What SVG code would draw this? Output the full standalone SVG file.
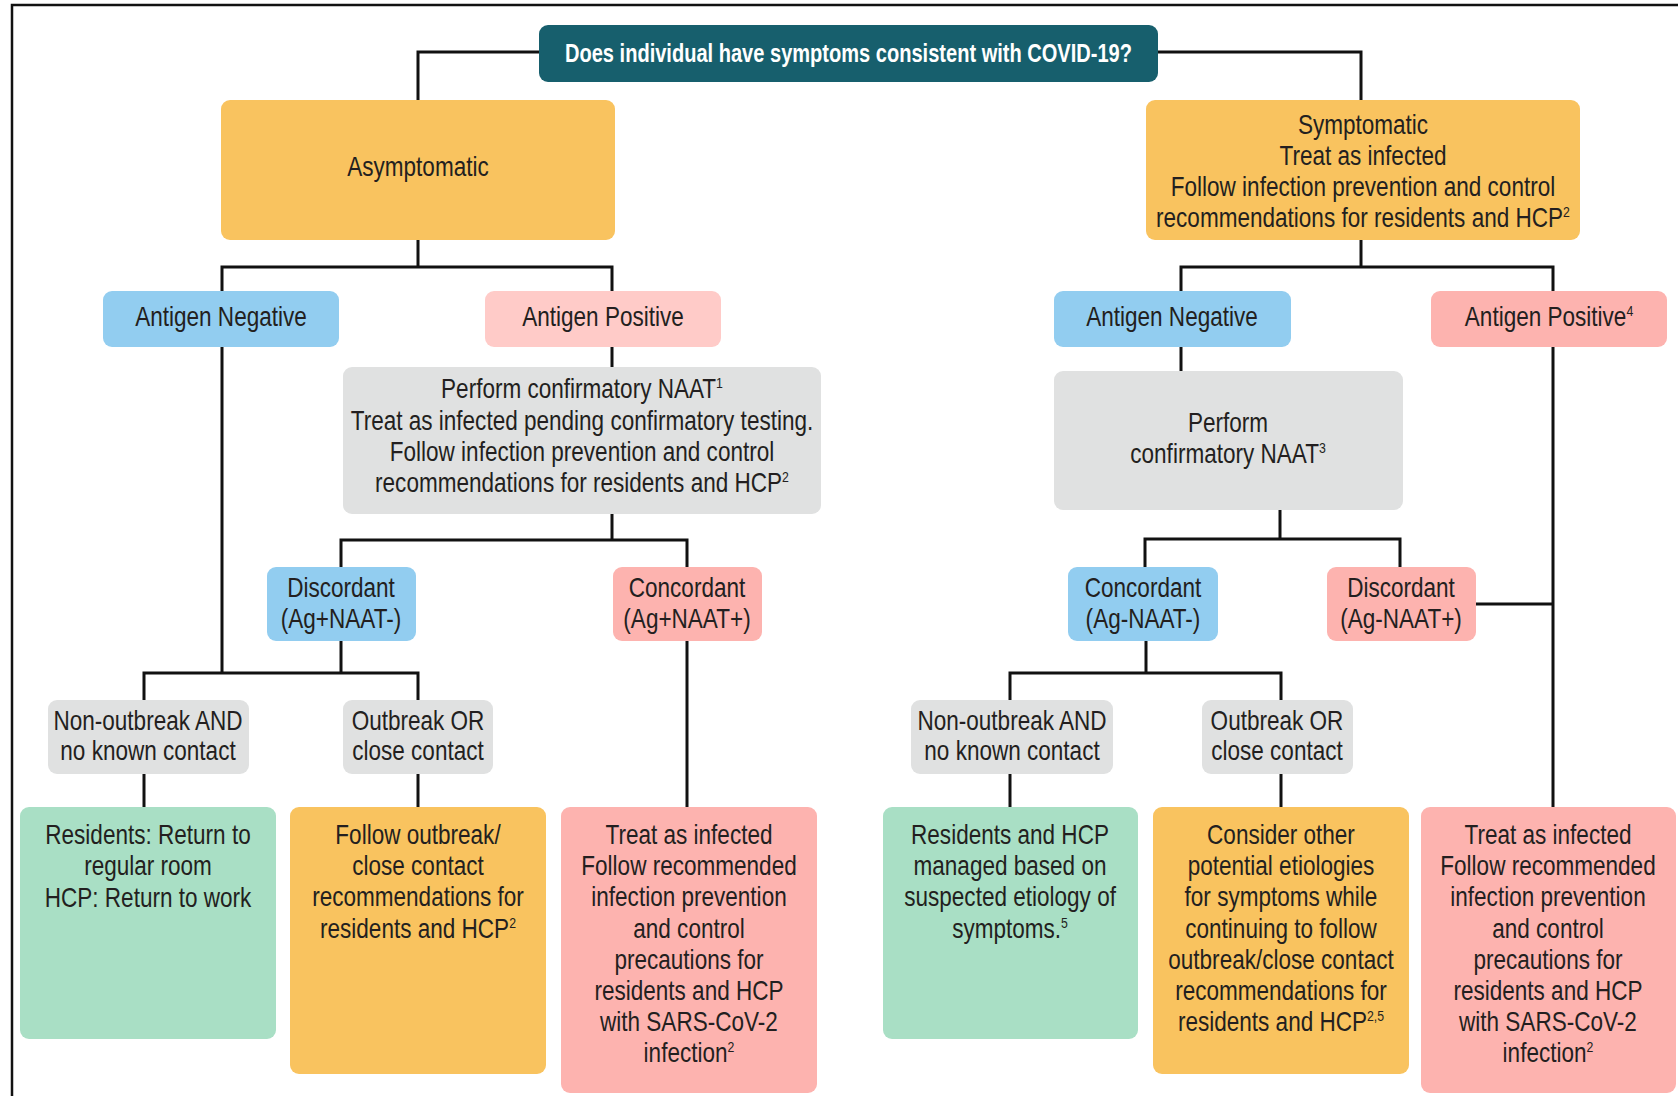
<svg xmlns="http://www.w3.org/2000/svg" width="1678" height="1096" viewBox="0 0 1678 1096">
<style>
.t{font-family:"Liberation Sans Narrow","Liberation Sans",sans-serif;font-size:27.5px;fill:#231f20;text-anchor:middle;transform-box:fill-box;transform-origin:center;transform:scaleX(0.82)}
.ti{font-family:"Liberation Sans",sans-serif;font-size:25px;font-weight:bold;fill:#ffffff;text-anchor:middle}
.s{font-size:15px}
.org{fill:#f9c35f}.blu{fill:#92cdf0}.pkl{fill:#ffcbc8}.pk{fill:#fdb3af}.gry{fill:#e0e1e1}.grn{fill:#a9dfc5}.teal{fill:#175f6d}
.c{fill:none;stroke:#111;stroke-width:3}
.frame{fill:none;stroke:#111;stroke-width:2.5}
</style>
<rect width="1678" height="1096" fill="#ffffff"/>
<path class="frame" d="M12,1096 V5 H1678"/>
<g id="connectors">
<path class="c" d="M539,52 H418 V100"/>
<path class="c" d="M1158,52 H1361 V100"/>
<path class="c" d="M418,240 V267"/>
<path class="c" d="M222,291 V267 H612 V291"/>
<path class="c" d="M222,347 V673"/>
<path class="c" d="M612,347 V367"/>
<path class="c" d="M612,514 V540"/>
<path class="c" d="M341,567 V540 H687 V567"/>
<path class="c" d="M341,641 V673"/>
<path class="c" d="M144,700 V673 H418 V700"/>
<path class="c" d="M144,774 V807"/>
<path class="c" d="M418,774 V807"/>
<path class="c" d="M687,641 V807"/>
<path class="c" d="M1361,240 V267"/>
<path class="c" d="M1181,291 V267 H1553 V291"/>
<path class="c" d="M1181,347 V371"/>
<path class="c" d="M1280,510 V539"/>
<path class="c" d="M1145,567 V539 H1400 V567"/>
<path class="c" d="M1146,641 V673"/>
<path class="c" d="M1010,700 V673 H1281 V700"/>
<path class="c" d="M1010,774 V807"/>
<path class="c" d="M1281,774 V807"/>
<path class="c" d="M1553,347 V807"/>
<path class="c" d="M1476,604 H1553"/>
</g>
<g id="question">
<rect class="teal" x="539" y="25" width="619" height="57" rx="9"/>
<text class="ti" x="848.5" y="62" textLength="567" lengthAdjust="spacingAndGlyphs">Does individual have symptoms consistent with COVID-19?</text>
</g>
<g id="asymptomatic">
<rect class="org" x="221" y="100" width="394" height="140" rx="9"/>
<text class="t" x="418" y="176">Asymptomatic</text>
</g>
<g id="symptomatic">
<rect class="org" x="1146" y="100" width="434" height="140" rx="9"/>
<text class="t" x="1363" y="134">Symptomatic</text>
<text class="t" x="1363" y="165">Treat as infected</text>
<text class="t" x="1363" y="196">Follow infection prevention and control</text>
<text class="t" x="1363" y="227">recommendations for residents and HCP<tspan class="s" dy="-10">2</tspan></text>
</g>
<g id="ag-neg-left">
<rect class="blu" x="103" y="291" width="236" height="56" rx="9"/>
<text class="t" x="221" y="326">Antigen Negative</text>
</g>
<g id="ag-pos-left">
<rect class="pkl" x="485" y="291" width="236" height="56" rx="9"/>
<text class="t" x="603" y="326">Antigen Positive</text>
</g>
<g id="naat-left">
<rect class="gry" x="343" y="367" width="478" height="147" rx="9"/>
<text class="t" x="582" y="398">Perform confirmatory NAAT<tspan class="s" dy="-10">1</tspan></text>
<text class="t" x="582" y="430">Treat as infected pending confirmatory testing.</text>
<text class="t" x="582" y="461">Follow infection prevention and control</text>
<text class="t" x="582" y="492">recommendations for residents and HCP<tspan class="s" dy="-10">2</tspan></text>
</g>
<g id="discordant-left">
<rect class="blu" x="267" y="567" width="149" height="74" rx="9"/>
<text class="t" x="341" y="597">Discordant</text>
<text class="t" x="341" y="628">(Ag+NAAT-)</text>
</g>
<g id="concordant-left">
<rect class="pk" x="613" y="567" width="149" height="74" rx="9"/>
<text class="t" x="687" y="597">Concordant</text>
<text class="t" x="687" y="628">(Ag+NAAT+)</text>
</g>
<g id="nonoutbreak-left">
<rect class="gry" x="48" y="700" width="201" height="74" rx="9"/>
<text class="t" x="148" y="730">Non-outbreak AND</text>
<text class="t" x="148" y="760">no known contact</text>
</g>
<g id="outbreak-left">
<rect class="gry" x="343" y="700" width="150" height="74" rx="9"/>
<text class="t" x="418" y="730">Outbreak OR</text>
<text class="t" x="418" y="760">close contact</text>
</g>
<g id="return-left">
<rect class="grn" x="20" y="807" width="256" height="232" rx="9"/>
<text class="t" x="148" y="844">Residents: Return to</text>
<text class="t" x="148" y="875">regular room</text>
<text class="t" x="148" y="907">HCP: Return to work</text>
</g>
<g id="follow-outbreak-left">
<rect class="org" x="290" y="807" width="256" height="267" rx="9"/>
<text class="t" x="418" y="844">Follow outbreak/</text>
<text class="t" x="418" y="875">close contact</text>
<text class="t" x="418" y="906">recommendations for</text>
<text class="t" x="418" y="938">residents and HCP<tspan class="s" dy="-10">2</tspan></text>
</g>
<g id="infected-left">
<rect class="pk" x="561" y="807" width="256" height="286" rx="9"/>
<text class="t" x="689" y="844">Treat as infected</text>
<text class="t" x="689" y="875">Follow recommended</text>
<text class="t" x="689" y="906">infection prevention</text>
<text class="t" x="689" y="938">and control</text>
<text class="t" x="689" y="969">precautions for</text>
<text class="t" x="689" y="1000">residents and HCP</text>
<text class="t" x="689" y="1031">with SARS-CoV-2</text>
<text class="t" x="689" y="1062">infection<tspan class="s" dy="-10">2</tspan></text>
</g>
<g id="ag-neg-right">
<rect class="blu" x="1054" y="291" width="237" height="56" rx="9"/>
<text class="t" x="1172" y="326">Antigen Negative</text>
</g>
<g id="ag-pos-right">
<rect class="pk" x="1431" y="291" width="236" height="56" rx="9"/>
<text class="t" x="1549" y="326">Antigen Positive<tspan class="s" dy="-10">4</tspan></text>
</g>
<g id="naat-right">
<rect class="gry" x="1054" y="371" width="349" height="139" rx="9"/>
<text class="t" x="1228" y="432">Perform</text>
<text class="t" x="1228" y="463">confirmatory NAAT<tspan class="s" dy="-10">3</tspan></text>
</g>
<g id="concordant-right">
<rect class="blu" x="1068" y="567" width="150" height="74" rx="9"/>
<text class="t" x="1143" y="597">Concordant</text>
<text class="t" x="1143" y="628">(Ag-NAAT-)</text>
</g>
<g id="discordant-right">
<rect class="pk" x="1327" y="567" width="149" height="74" rx="9"/>
<text class="t" x="1401" y="597">Discordant</text>
<text class="t" x="1401" y="628">(Ag-NAAT+)</text>
</g>
<g id="nonoutbreak-right">
<rect class="gry" x="911" y="700" width="202" height="74" rx="9"/>
<text class="t" x="1012" y="730">Non-outbreak AND</text>
<text class="t" x="1012" y="760">no known contact</text>
</g>
<g id="outbreak-right">
<rect class="gry" x="1202" y="700" width="151" height="74" rx="9"/>
<text class="t" x="1277" y="730">Outbreak OR</text>
<text class="t" x="1277" y="760">close contact</text>
</g>
<g id="managed-right">
<rect class="grn" x="883" y="807" width="255" height="232" rx="9"/>
<text class="t" x="1010" y="844">Residents and HCP</text>
<text class="t" x="1010" y="875">managed based on</text>
<text class="t" x="1010" y="906">suspected etiology of</text>
<text class="t" x="1010" y="938">symptoms.<tspan class="s" dy="-10">5</tspan></text>
</g>
<g id="consider-right">
<rect class="org" x="1153" y="807" width="256" height="267" rx="9"/>
<text class="t" x="1281" y="844">Consider other</text>
<text class="t" x="1281" y="875">potential etiologies</text>
<text class="t" x="1281" y="906">for symptoms while</text>
<text class="t" x="1281" y="938">continuing to follow</text>
<text class="t" x="1281" y="969">outbreak/close contact</text>
<text class="t" x="1281" y="1000">recommendations for</text>
<text class="t" x="1281" y="1031">residents and HCP<tspan class="s" dy="-10">2,5</tspan></text>
</g>
<g id="infected-right">
<rect class="pk" x="1421" y="807" width="255" height="286" rx="9"/>
<text class="t" x="1548" y="844">Treat as infected</text>
<text class="t" x="1548" y="875">Follow recommended</text>
<text class="t" x="1548" y="906">infection prevention</text>
<text class="t" x="1548" y="938">and control</text>
<text class="t" x="1548" y="969">precautions for</text>
<text class="t" x="1548" y="1000">residents and HCP</text>
<text class="t" x="1548" y="1031">with SARS-CoV-2</text>
<text class="t" x="1548" y="1062">infection<tspan class="s" dy="-10">2</tspan></text>
</g>
</svg>
